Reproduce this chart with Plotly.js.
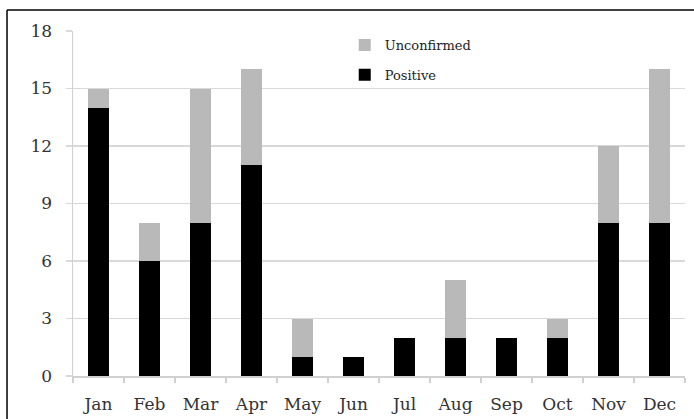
<!DOCTYPE html>
<html>
<head>
<script src="https://cdn.plot.ly/plotly-3.0.1.min.js"></script>
<style>html,body{margin:0;padding:0;background:#fff;}#chart{width:694px;height:419px;}</style>
</head>
<body>
<div id="chart"></div>
<script>
const months = ['Jan','Feb','Mar','Apr','May','Jun','Jul','Aug','Sep','Oct','Nov','Dec'];
const positive = [14, 6, 8, 11, 1, 1, 2, 2, 2, 2, 8, 8];
const unconfirmed = [1, 2, 7, 5, 2, 0, 0, 3, 0, 1, 4, 8];
const yTicks = [0, 3, 6, 9, 12, 15, 18];

const fontFam = 'DejaVu Serif, Liberation Serif, serif';
const traces = [
  {type:'bar', name:'Positive', x:months, y:positive, marker:{color:'#000000'}, legendgroup:'p', legendrank:2},
  {type:'bar', name:'Unconfirmed', x:months, y:unconfirmed, marker:{color:'#b9b9b9'}, legendgroup:'u', legendrank:1}
];
const layout = {
  width:694, height:419,
  margin:{l:73, r:9, t:31, b:43},
  barmode:'stack', bargap:0.59,
  paper_bgcolor:'#fff', plot_bgcolor:'#fff',
  font:{family:fontFam, size:17, color:'#333'},
  xaxis:{showgrid:false, showline:true, linecolor:'#d0d0d0', linewidth:1.5,
    ticks:'outside', ticklen:5, tickcolor:'#d0d0d0', tickwidth:1.5, tickson:'boundaries',
    ticklabelstandoff:12, tickfont:{family:fontFam, size:17, color:'#333'}, fixedrange:true},
  yaxis:{range:[0,18], tickvals:yTicks, ticktext:yTicks.map(String), showgrid:true, gridcolor:'#d9d9d9', gridwidth:1.5,
    showline:true, linecolor:'#d0d0d0', linewidth:1.5, ticks:'outside', ticklen:6, tickcolor:'#d9d9d9', tickwidth:1.5,
    zeroline:false, ticklabelstandoff:10, tickfont:{family:fontFam, size:17, color:'#333'}},
  legend:{x:0.444, y:1.003, xanchor:'left', yanchor:'top', traceorder:'grouped', tracegroupgap:10,
    font:{family:fontFam, size:13, color:'#222'}, bgcolor:'rgba(0,0,0,0)'},
  showlegend:true,
  shapes:[
    {type:'line', xref:'paper', yref:'paper', x0:-0.1078, x1:1.2, y0:1.061, y1:1.061, line:{color:'#000', width:1.5}},
    {type:'line', xref:'paper', yref:'paper', x0:-0.1078, x1:-0.1078, y0:-0.3, y1:1.061, line:{color:'#000', width:1.5}}
  ]
};
Plotly.newPlot('chart', traces, layout, {displayModeBar:false, staticPlot:true});
</script>
</body>
</html>
